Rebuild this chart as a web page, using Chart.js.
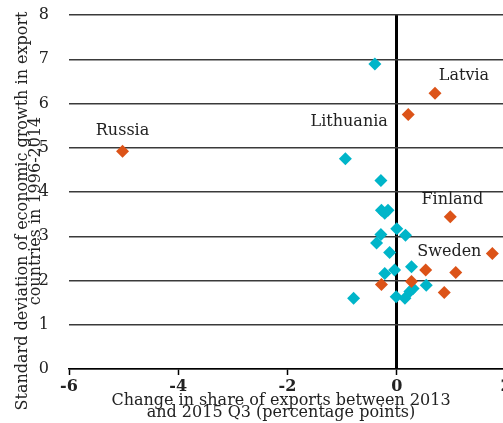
<!DOCTYPE html>
<html>
<head>
<meta charset="utf-8">
<script src="https://cdn.jsdelivr.net/npm/chart.js@4/dist/chart.umd.min.js"></script>
<style>
  html, body { margin: 0; padding: 0; background: #fff; overflow: hidden; }
  #grafico { display: block; }
</style>
</head>
<body>
<canvas id="grafico" width="520" height="423"></canvas>
<script>
// pontos laranja (paises com nome) e pontos azuis (outros paises)
const laranjaX = [-5.02, 0.70, 0.21, 0.98, 1.75, 1.08, 0.53, 0.27, -0.28, 0.87]
const laranjaY = [4.92, 6.23, 5.75, 3.44, 2.61, 2.18, 2.24, 1.98, 1.91, 1.73]
const laranjaNomes = ['Russia', 'Latvia', 'Lithuania', 'Finland', 'Sweden', '', '', '', '', '']

const azulX = [-0.40, -0.94, -0.29, -0.28, -0.16, -0.22, 0.00, 0.16, -0.29, -0.37,
               -0.13, 0.27, -0.04, -0.22, 0.54, -0.79, -0.01, 0.15, 0.24, 0.30]
const azulY = [6.89, 4.75, 4.26, 3.59, 3.59, 3.52, 3.17, 3.02, 3.04, 2.85,
               2.63, 2.31, 2.24, 2.16, 1.89, 1.60, 1.63, 1.60, 1.75, 1.82]

const ticksX = [-6, -4, -2, 0, 2]
const ticksY = [0, 1, 2, 3, 4, 5, 6, 7, 8]

const tituloX = ['Change in share of exports between 2013', 'and 2015 Q3 (percentage points)']
const tituloY = ['Standard deviation of economic growth in export', 'countries in 1996-2014']

// deslocamento dos nomes em relacao ao ponto (pixels)
const deslocamento = {
  Russia: [0, -20],
  Latvia: [29, -17],
  Lithuania: [-59, 7],
  Finland: [2, -17],
  Sweden: [-43, -2]
}

const fonte = '"DejaVu Serif", serif'

const pontos = (xs, ys) => xs.map((x, i) => ({ x: x, y: ys[i] }))

const textos = {
  id: 'textos',
  afterDatasetsDraw(chart) {
    const ctx = chart.ctx
    const sx = chart.scales.x
    const sy = chart.scales.y
    ctx.save()
    ctx.fillStyle = '#222'
    ctx.font = '16px ' + fonte
    ctx.textAlign = 'center'
    ctx.textBaseline = 'middle'

    laranjaNomes.forEach((nome, i) => {
      if (!nome) return
      const d = deslocamento[nome]
      ctx.fillText(nome, sx.getPixelForValue(laranjaX[i]) + d[0], sy.getPixelForValue(laranjaY[i]) + d[1])
    })

    ctx.fillText(tituloX[0], 281, 401)
    ctx.fillText(tituloX[1], 281, 413)

    ctx.translate(23, 211)
    ctx.rotate(-Math.PI / 2)
    ctx.fillText(tituloY[0], 0, 0)
    ctx.fillText(tituloY[1], 0, 13)
    ctx.restore()
  }
}

new Chart(document.getElementById('grafico'), {
  type: 'scatter',
  data: {
    datasets: [
      {
        label: 'destacados',
        data: pontos(laranjaX, laranjaY),
        backgroundColor: '#DC5318',
        borderWidth: 0,
        pointStyle: 'rectRot',
        pointRadius: 6.5
      },
      {
        label: 'outros',
        data: pontos(azulX, azulY),
        backgroundColor: '#00B5C9',
        borderWidth: 0,
        pointStyle: 'rectRot',
        pointRadius: 6.5
      }
    ]
  },
  options: {
    responsive: false,
    animation: false,
    layout: { padding: { top: 15, right: 14, left: 0, bottom: 0 } },
    plugins: { legend: { display: false }, tooltip: { enabled: false } },
    scales: {
      x: {
        type: 'linear',
        min: -6,
        max: 2,
        afterFit: (s) => { s.height = 54 },
        afterBuildTicks: (s) => { s.ticks = ticksX.map(v => ({ value: v })) },
        border: { display: true, color: '#000', width: 1.5 },
        grid: {
          color: (c) => c.tick && c.tick.value === 0 ? '#000' : 'rgba(0,0,0,0)',
          lineWidth: (c) => c.tick && c.tick.value === 0 ? 3 : 1,
          tickColor: '#000',
          tickWidth: 1.5,
          tickLength: 6
        },
        ticks: {
          color: '#222',
          padding: 2,
          maxRotation: 0,
          font: { family: fonte, size: 16, weight: 'bold' }
        }
      },
      y: {
        type: 'linear',
        min: 0,
        max: 8,
        afterFit: (s) => { s.width = 69; s.paddingTop = 0; s.paddingBottom = 0 },
        afterBuildTicks: (s) => { s.ticks = ticksY.map(v => ({ value: v })) },
        border: { display: false },
        grid: { color: '#3a3a3a', lineWidth: 1.5, drawTicks: false },
        ticks: {
          color: '#222',
          padding: 20,
          font: { family: fonte, size: 16 }
        }
      }
    }
  },
  plugins: [textos]
})
</script>
</body>
</html>
